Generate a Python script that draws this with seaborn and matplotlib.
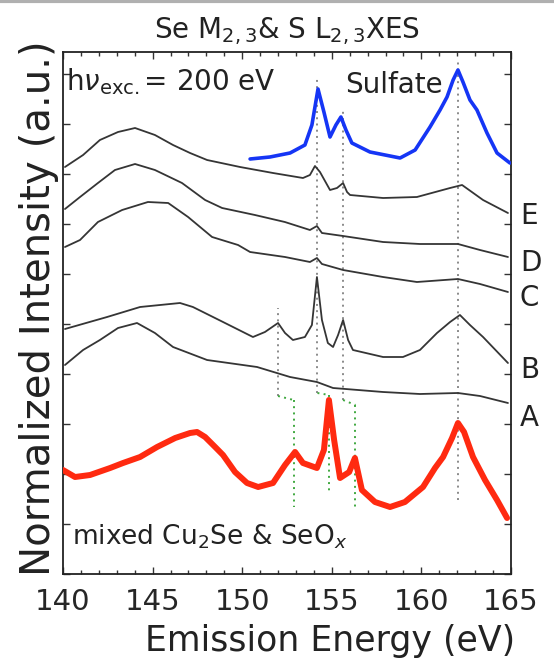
import matplotlib
matplotlib.use("Agg")
import matplotlib.pyplot as plt
import matplotlib.ticker as mticker
from matplotlib.lines import Line2D
import seaborn as sns

# spectra: emission energy (eV), normalized intensity (a.u., offset)
sulfate_e = [150.44, 151.55, 152.67, 153.50, 153.89, 154.23, 154.56, 154.90, 155.23, 155.51,
             155.79, 156.12, 157.13, 158.81, 159.65, 160.48, 161.04, 161.43, 161.77, 162.04,
             162.32, 162.71, 163.10, 163.66, 164.22, 164.94]
sulfate_i = [4.15, 4.17, 4.21, 4.29, 4.49, 4.85, 4.62, 4.37, 4.49, 4.57,
             4.44, 4.31, 4.22, 4.16, 4.24, 4.47, 4.64, 4.77, 4.94, 5.04,
             4.92, 4.74, 4.64, 4.41, 4.21, 4.11]

e_e = [140.11, 141.12, 142.06, 143.07, 144.02, 145.13, 146.14, 147.09, 148.04, 149.88,
       151.72, 153.39, 153.78, 154.06, 154.34, 154.90, 155.29, 155.63, 155.85, 156.02,
       157.86, 159.75, 161.60, 162.27, 163.44, 164.83]
e_i = [4.07, 4.19, 4.34, 4.42, 4.46, 4.39, 4.29, 4.21, 4.14, 4.07,
       4.01, 3.96, 3.99, 4.08, 4.02, 3.84, 3.86, 3.91, 3.82, 3.79,
       3.76, 3.77, 3.86, 3.89, 3.74, 3.61]

d_e = [140.11, 140.95, 141.95, 142.90, 144.02, 145.13, 146.64, 147.93, 148.88, 150.71,
       152.38, 153.78, 154.17, 154.45, 155.63, 157.86, 159.92, 162.04, 163.27, 164.83]
d_i = [3.65, 3.77, 3.91, 4.04, 4.10, 4.04, 3.91, 3.74, 3.66, 3.59,
       3.52, 3.44, 3.48, 3.41, 3.38, 3.32, 3.30, 3.30, 3.24, 3.17]

c_e = [140.11, 140.95, 141.95, 143.30, 144.74, 145.87, 146.98, 148.32, 149.77, 150.44,
       152.39, 153.78, 154.17, 154.45, 155.63, 157.86, 159.75, 162.04, 163.27, 164.83]
c_i = [3.27, 3.34, 3.52, 3.64, 3.72, 3.71, 3.57, 3.37, 3.29, 3.22,
       3.17, 3.12, 3.16, 3.10, 3.04, 2.97, 2.92, 2.95, 2.90, 2.82]

b_e = [140.11, 142.46, 144.30, 146.53, 147.25, 148.93, 150.60, 151.27, 152.00, 152.39,
       152.83, 153.50, 153.89, 154.17, 154.45, 154.78, 155.07, 155.35, 155.63, 155.91,
       156.18, 157.86, 158.97, 159.92, 160.87, 161.60, 162.15, 162.71, 163.44, 164.83]
b_i = [2.45, 2.57, 2.67, 2.71, 2.67, 2.52, 2.37, 2.42, 2.51, 2.41,
       2.34, 2.37, 2.49, 2.97, 2.54, 2.31, 2.27, 2.39, 2.54, 2.34,
       2.24, 2.17, 2.17, 2.24, 2.41, 2.52, 2.59, 2.49, 2.37, 2.11]

a_e = [140.11, 141.12, 142.06, 143.07, 144.13, 145.13, 146.14, 148.04, 150.83, 152.67,
       154.17, 155.07, 157.86, 159.92, 162.04, 163.27, 164.83]
a_i = [2.09, 2.24, 2.34, 2.46, 2.51, 2.41, 2.27, 2.14, 2.07, 1.97,
       1.92, 1.86, 1.82, 1.80, 1.81, 1.78, 1.71]

mixed_e = [140.00, 140.67, 141.51, 142.63, 143.35, 144.30, 145.25, 146.26, 147.09, 147.48,
           147.93, 148.49, 148.93, 149.60, 150.27, 150.89, 151.72, 152.39, 152.95, 153.39,
           154.17, 154.56, 154.84, 155.13, 155.46, 155.97, 156.29, 156.68, 157.41, 158.25,
           159.08, 160.09, 160.76, 161.21, 161.71, 162.04, 162.38, 162.88, 163.55, 164.22,
           164.78]
mixed_i = [1.04, 0.97, 0.99, 1.06, 1.11, 1.17, 1.27, 1.36, 1.41, 1.42,
           1.37, 1.27, 1.19, 1.02, 0.91, 0.87, 0.91, 1.09, 1.22, 1.11,
           1.06, 1.24, 1.74, 1.34, 0.96, 1.02, 1.16, 0.84, 0.72, 0.67,
           0.72, 0.87, 1.06, 1.17, 1.36, 1.51, 1.42, 1.17, 0.94, 0.74,
           0.56]

sample_labels = ["E", "D", "C", "B", "A"]
sample_label_i = [3.58, 3.11, 2.76, 2.04, 1.56]

# gray dotted peak guides: energy, top, bottom
guide_e = [152.00, 154.20, 155.63, 162.04]
guide_top = [2.66, 4.96, 4.66, 5.12]
guide_bottom = [1.78, 1.81, 1.74, 0.74]
# green dotted shift to the mixed sample peaks
shift_e = [152.87, 154.86, 156.32]
shift_top = [1.74, 1.79, 1.69]
shift_bottom = [0.67, 0.82, 0.64]

sns.set_theme(style="ticks")
plt.rcParams["font.family"] = ["DejaVu Sans"]
plt.rcParams["mathtext.fontset"] = "dejavusans"

fig = plt.figure(figsize=(5.54, 6.61), dpi=100)
ax = fig.add_axes([63 / 554, 1 - 574 / 661, 448 / 554, 522 / 661])

dot_kw = dict(linestyle=(0, (1, 2.2)), linewidth=1.4, zorder=1)
for x, top, bot in zip(guide_e, guide_top, guide_bottom):
    ax.plot([x, x], [bot, top], color="#8a8a8a", **dot_kw)
for g, gb, x, top, bot in zip(guide_e, guide_bottom, shift_e, shift_top, shift_bottom):
    ax.plot([g, x], [gb, top], color="#3fa83f", **dot_kw)
    ax.plot([x, x], [top, bot], color="#3fa83f", **dot_kw)

black = "#353535"
for xs, ys in [(e_e, e_i), (d_e, d_i), (c_e, c_i), (b_e, b_i), (a_e, a_i)]:
    sns.lineplot(x=xs, y=ys, ax=ax, color=black, linewidth=1.3, sort=False, estimator=None, zorder=2)
sns.lineplot(x=sulfate_e, y=sulfate_i, ax=ax, color="#1535f5", linewidth=2.6, sort=False, estimator=None, zorder=3)
sns.lineplot(x=mixed_e, y=mixed_i, ax=ax, color="#ff2a10", linewidth=4.3, sort=False, estimator=None, zorder=3)

ax.set_xlim(140, 165)
ax.set_ylim(0, 5.22)
ax.xaxis.set_major_locator(mticker.MultipleLocator(5))
ax.xaxis.set_minor_locator(mticker.MultipleLocator(1))
ax.yaxis.set_major_locator(mticker.MultipleLocator(0.5))
ax.tick_params(which="both", direction="in", top=True, right=True, width=1, color="#333333")
ax.tick_params(which="major", length=5, labelsize=21, pad=10)
ax.tick_params(which="minor", length=3)
ax.tick_params(axis="y", labelleft=False)
for s in ax.spines.values():
    s.set_linewidth(1.3)
    s.set_color("#222222")

ax.set_xlabel("Emission Energy (eV)", fontsize=25, color="#222222")
ax.xaxis.set_label_coords(0.596, -0.095)
ax.set_ylabel("Normalized Intensity (a.u.)", fontsize=29, color="#222222")
ax.yaxis.set_label_coords(-0.008, 0.51)
ax.set_title(r"Se M$_{2,3}$& S L$_{2,3}$XES", fontsize=20, color="#222222", pad=10)

ax.text(140.15, 4.92, r"h$\nu_{\rm exc.}$= 200 eV", fontsize=20, va="center", ha="left", color="#222222")
ax.text(155.75, 4.89, "Sulfate", fontsize=20, va="center", ha="left", color="#222222")
ax.text(140.5, 0.37, r"mixed Cu$_2$Se & SeO$_x$", fontsize=19, va="center", ha="left", color="#222222")
for lab, yv in zip(sample_labels, sample_label_i):
    ax.text(165.5, yv, lab, fontsize=20, va="center", ha="left", color="#222222", clip_on=False)

fig.add_artist(Line2D([0, 1], [0.998, 0.998], color="#b0b0b0", linewidth=3))

fig.savefig("out.png", dpi=100)
